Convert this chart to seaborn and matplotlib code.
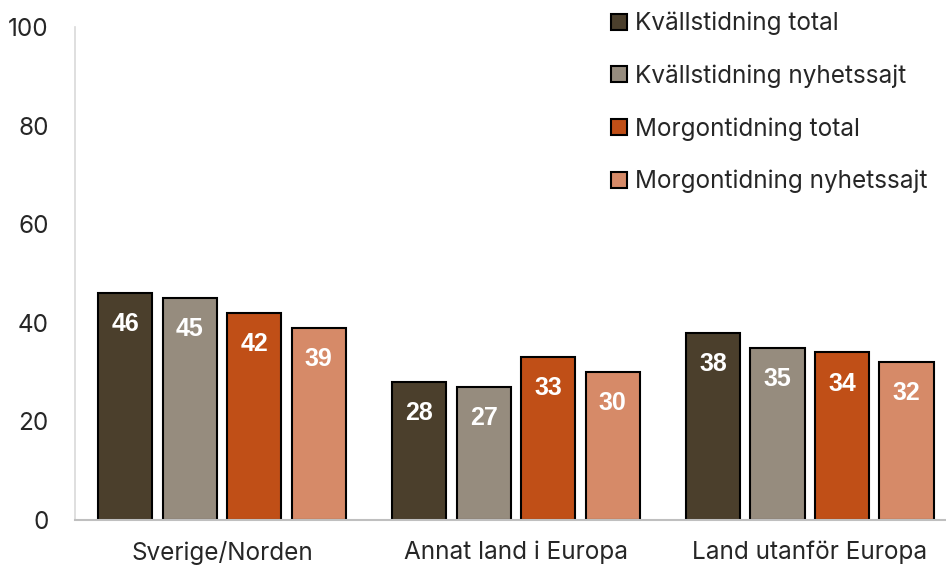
import matplotlib
matplotlib.use("Agg")
import matplotlib.pyplot as plt
import seaborn as sns
import pandas as pd
from matplotlib.ticker import FixedLocator

categories = ["Sverige/Norden", "Annat land i Europa", "Land utanför Europa"]
series = ["Kvällstidning total", "Kvällstidning nyhetssajt", "Morgontidning total", "Morgontidning nyhetssajt"]
kv_total = [46, 28, 38]
kv_sajt = [45, 27, 35]
mo_total = [42, 33, 34]
mo_sajt = [39, 30, 32]
colors = ["#4B3F2C", "#968C7E", "#C04F17", "#D68A68"]
yticks = [0, 20, 40, 60, 80, 100]

rows = []
for s, vals in zip(series, [kv_total, kv_sajt, mo_total, mo_sajt]):
    for c, v in zip(categories, vals):
        rows.append({"Kategori": c, "Serie": s, "Värde": v})
df = pd.DataFrame(rows)

sns.set_theme(style="white")
plt.rcParams["font.family"] = ["Inter", "DejaVu Sans"]

fig = plt.figure(figsize=(9.46, 5.67), dpi=100)
ax = fig.add_axes([0.0793, 0.0829, 0.932, 0.869])

sns.barplot(data=df, x="Kategori", y="Värde", hue="Serie", order=categories,
            hue_order=series, palette=colors, saturation=1, width=0.878, gap=0.16,
            edgecolor="black", linewidth=1.5, ax=ax, legend=True)

for cont in ax.containers:
    ax.bar_label(cont, fmt="%d", padding=-31, color="white", fontsize=18,
                 fontweight="bold", family="Liberation Sans")

ax.set_ylim(0, 100)
ax.set_xlim(-0.5, 2.5)
ax.set_yticks(yticks)
ax.tick_params(axis="y", length=0, labelsize=17.5, pad=19)
ax.tick_params(axis="x", which="major", length=0, labelsize=17.5, pad=15)
ax.xaxis.set_minor_locator(FixedLocator([-0.5, 0.5, 1.5, 2.5]))
ax.tick_params(axis="x", which="minor", length=6, width=1.2, color="#BFBFBF", direction="out")
ax.set_xlabel("")
ax.set_ylabel("")
for side in ["top", "right"]:
    ax.spines[side].set_visible(False)
ax.spines["left"].set_color("#D9D9D9")
ax.spines["left"].set_linewidth(1.2)
ax.spines["bottom"].set_color("#BFBFBF")
ax.spines["bottom"].set_linewidth(1.5)

leg = ax.legend(loc="upper left", bbox_to_anchor=(0.634, 1.0), bbox_transform=fig.transFigure,
                frameon=False, fontsize=17.5, handlelength=0.65, handleheight=0.65,
                handletextpad=0.3, labelspacing=1.2, borderaxespad=0.08)
for h in leg.legend_handles:
    h.set_edgecolor("black")
    h.set_linewidth(1.5)

fig.savefig("out.png", dpi=100)
